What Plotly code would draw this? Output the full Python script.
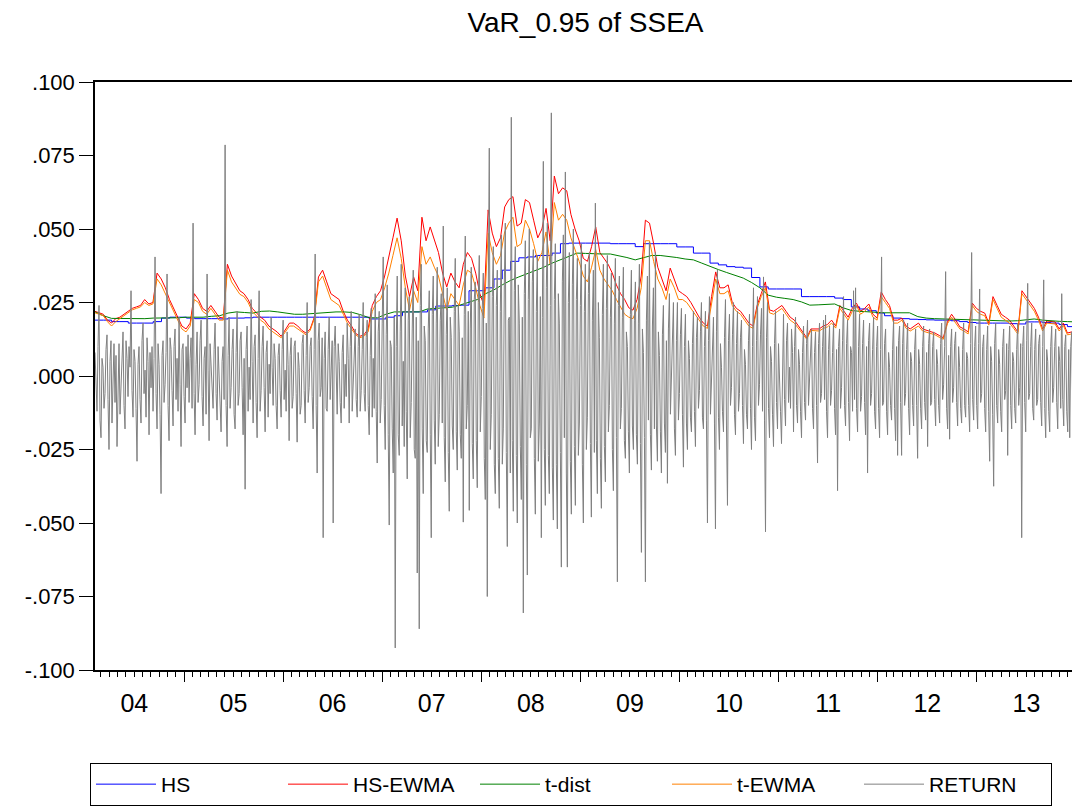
import pandas as pd
import plotly.graph_objects as go

# ---------------- data ----------------
START = "2004-02-08"
END = "2013-12-31"

# Daily return, sampled about every pixel of the original chart
returns = [
    .008, -.004, -.012, .010, .024, -.015, -.021, .006, .003, -.011, -.006, .009, .014, -.008, -.025, .005, .012, -.016, .004, .011,
    -.009, .007, -.024, -.006, .011, -.013, -.002, .008, .015, -.010, -.018, .012, .006, -.007, .010, .003, .029, -.005, -.014, .009,
    .005, -.011, -.029, .004, .010, -.008, -.016, .012, .018, -.006, .002, -.014, .013, .005, -.020, .008, -.004, .010, -.012, .006,
    .0405, -.006, -.018, .011, .004, -.013, -.040, .007, .012, -.009, -.003, .008, .0347, -.010, -.022, .013, .009, -.005, -.017, .010,
    .016, -.008, .006, -.012, .020, -.003, -.024, .009, .011, -.007, -.016, .010, -.004, .014, -.009, .006, .013, -.011, .052, -.006,
    -.020, .004, .015, -.009, -.003, .012, .019, -.007, -.017, .006, .010, -.013, .0347, .002, -.022, .011, .004, -.008, -.011, .009,
    .018, -.006, -.015, .010, .002, -.012, -.019, .005, .010, -.008, .0786, -.010, -.024, .007, .020, -.011, -.004, .009, .016, -.013,
    -.018, .008, .022, -.010, -.006, .012, .015, -.004, -.020, .006, -.0385, .009, .017, -.012, .003, -.008, .026, .005, -.016, .010,
    .014, -.009, -.021, .006, .029, -.012, -.005, .010, .017, -.004, -.019, .008, .012, -.014, .004, -.006, .020, .003, -.010, .011,
    .006, -.010, -.018, .007, .011, -.005, -.014, .009, .019, -.008, .002, -.012, .015, .004, -.022, .007, .013, -.011, -.007, .010,
    .012, -.006, -.0225, .008, .003, -.013, -.010, .011, .014, -.005, -.016, .007, .025, -.009, -.004, .010, .013, -.007, -.018, .009,
    .0415, -.010, -.033, .012, .018, -.007, -.004, .013, -.055, .006, .015, -.011, -.012, .009, .020, -.008, .003, .012, -.050, .010,
    .017, -.005, -.013, .011, .005, -.009, -.016, .008, .014, -.011, .004, -.007, .018, .006, -.016, .010, .022, -.012, -.002, .009,
    .016, -.008, -.014, .010, .021, -.012, -.005, .009, .025, -.006, -.012, .013, .019, -.010, -.020, .007, .023, -.014, .006, -.011,
    .028, -.012, -.0296, .015, .022, -.016, -.008, .018, .0405, -.010, -.025, .014, .031, -.020, -.0507, .012, .010, -.018, -.033, .020,
    -.0925, .010, .034, -.020, -.027, .015, .038, -.017, .005, -.024, .030, -.012, -.035, .019, .027, -.021, -.009, .016, .036, -.025,
    -.028, .020, -.067, .012, -.086, .024, .038, -.018, -.040, .017, .012, -.022, -.026, .016, .029, -.020, -.055, .021, .034, -.015,
    -.030, .018, .037, -.024, -.013, .019, .028, -.016, .051, -.021, -.036, .014, .030, -.026, -.046, .020, .013, -.017, -.025, .022,
    .040, -.019, -.032, .024, .015, -.020, -.028, .013, -.0497, .021, .0476, -.018, -.010, .022, -.0457, .016, .037, -.023, -.035, .026,
    .032, -.022, -.038, .025, .041, -.019, -.007, .023, .035, -.028, -.042, .018, -.075, .030, .0775, -.025, -.013, .027, .044, -.030,
    -.040, .024, .036, -.028, -.045, .022, .048, -.030, -.018, .031, .052, -.026, -.058, .019, .020, -.033, .088, -.022, -.046, .029,
    .044, -.027, -.050, .031, .018, -.024, -.042, .020, -.0806, .028, .046, -.030, -.0677, .026, .050, -.021, -.018, .032, .043, -.028,
    -.047, .022, .041, -.029, -.016, .027, -.055, .020, .073, -.025, -.044, .030, .052, -.027, -.040, .024, .0895, -.031, -.049, .026,
    .045, -.030, -.052, .028, .018, -.026, -.065, .032, .048, -.021, .0694, -.033, -.065, .025, .042, -.029, -.047, .031, .050, -.024,
    -.044, .026, .040, -.027, -.016, .024, .045, -.030, -.050, .022, .038, -.025, -.014, .028, .042, -.023, -.048, .019, .036, -.026,
    .0588, -.022, -.040, .025, .013, -.028, -.045, .021, .038, -.024, -.036, .023, .041, -.019, -.010, .020, .035, -.025, -.039, .018,
    .040, -.021, -.070, .024, .034, -.018, -.011, .020, .037, -.022, -.028, .015, .010, -.019, -.033, .021, .036, -.017, -.025, .019,
    .032, -.020, -.030, .018, .038, -.023, -.060, .016, .008, -.021, -.070, .019, .034, -.015, .0456, -.020, -.032, .017, .030, -.018,
    .042, -.017, -.029, .015, .007, -.019, -.033, .014, .024, -.016, -.026, .012, -.0365, .016, .028, -.013, -.002, .015, .025, -.018,
    -.027, .012, .025, -.015, -.006, .014, .023, -.013, -.031, .010, .021, -.016, -.025, .012, .006, -.014, -.019, .011, .022, -.012,
    -.024, .013, .020, -.011, -.005, .015, .025, -.014, -.018, .010, .022, -.015, -.050, .012, .027, -.013, -.002, .014, .020, -.016,
    -.052, .015, .036, -.014, -.025, .011, .003, -.012, -.019, .013, .026, -.017, -.044, .012, .021, -.010, -.004, .014, .025, -.013,
    -.020, .011, .022, -.012, -.006, .013, .019, -.010, -.023, .009, .004, -.013, -.018, .012, .021, -.011, -.025, .010, .030, -.014,
    -.022, .012, .027, -.010, -.003, .014, .023, -.012, .0337, -.015, -.053, .013, .025, -.011, -.021, .010, .005, -.013, -.024, .011,
    .022, -.009, -.018, .011, .002, -.012, -.023, .010, .021, -.008, -.017, .012, .018, -.009, .003, -.011, .016, .008, -.019, .010,
    .020, -.010, -.016, .009, .004, -.012, -.021, .008, .017, -.009, -.015, .011, .019, -.010, -.002, .009, .016, -.011, -.018, .008,
    .015, -.010, -.0296, .011, .018, -.009, -.006, .010, .019, -.008, .0207, -.012, -.021, .009, .017, -.010, -.005, .008, .018, -.011,
    -.020, .009, -.039, .010, .016, -.011, -.004, .012, .027, -.010, -.017, .011, .019, -.009, -.022, .010, .008, -.012, .029, -.008,
    .030, -.011, -.019, .010, .021, -.012, -.007, .011, .019, -.009, -.020, .010, -.033, .012, .018, -.010, -.006, .009, .020, -.012,
    -.018, .010, .017, -.011, -.021, .009, .0405, -.010, -.009, .011, .016, -.012, -.020, .008, .003, -.010, -.015, .009, .019, -.011,
    -.022, .010, -.027, .012, .017, -.009, -.027, .011, .019, -.010, -.006, .009, .018, -.011, -.020, .008, .005, -.010, -.017, .009,
    .016, -.010, -.028, .009, .004, -.011, -.018, .010, .017, -.009, -.015, .008, -.024, .011, .016, -.010, -.009, .010, .015, -.008,
    -.017, .009, .004, -.010, -.016, .011, .018, -.008, -.003, .010, .0355, -.011, -.018, .007, -.0215, .010, .016, -.009, -.004, .011,
    .015, -.009, -.017, .010, .003, -.011, -.016, .009, .018, -.010, -.014, .008, .006, -.010, -.019, .011, .042, -.008, -.015, .010,
    .017, -.010, -.018, .011, .0296, -.009, -.006, .010, .014, -.011, -.019, .009, .017, -.012, -.029, .010, .005, -.013, -.0375, .011,
    .018, -.010, -.016, .009, .004, -.012, -.019, .010, .016, -.008, -.005, .011, -.027, .009, .017, -.010, -.018, .008, .005, -.011,
    -.016, .009, .018, -.010, -.004, .011, -.055, .010, .017, -.009, -.019, .012, .0315, -.008, -.006, .010, .018, -.011, -.015, .009,
    .016, -.010, -.008, .011, .014, -.009, -.017, .010, .0327, -.011, -.021, .009, .005, -.012, -.019, .010, .017, -.009, -.004, .010,
    .016, -.009, -.018, .010, .005, -.011, .028, -.008, -.017, .010, .014, -.012, -.019, .009, -.021, .010, .015, -.011, -.016, .009,
    .013,
]

# HS-EWMA VaR, semi-monthly samples
hs_ewma = [
    .022, .0216, .021, .019, .018, .0195, .020, .021, .022, .023,
    .0235, .024, .026, .0245, .025, .035, .033, .030, .026, .023,
    .020, .017, .016, .018, .028, .026, .023, .022, .024, .022,
    .020, .0197, .038, .034, .0316, .029, .028, .026, .023, .0215,
    .020, .019, .017, .016, .015, .0135, .016, .018, .018, .017,
    .0155, .0146, .016, .020, .0337, .036, .032, .028, .027, .026,
    .022, .019, .017, .0145, .0135, .014, .016, .024, .027, .029,
    .034, .040, .047, .0537, .046, .034, .027, .0337, .029, .054,
    .046, .0507, .046, .042, .035, .0303, .035, .032, .030, .038,
    .042, .040, .035, .028, .024, .0565, .0486, .044, .047, .0575,
    .060, .061, .051, .052, .060, .059, .053, .047, .050, .057,
    .046, .068, .062, .064, .063, .055, .050, .046, .040, .039,
    .044, .0507, .042, .040, .038, .035, .031, .028, .026, .0232,
    .0224, .026, .034, .053, .052, .045, .037, .033, .029, .0367,
    .033, .029, .028, .027, .025, .0224, .020, .018, .017, .027,
    .0354, .030, .030, .031, .025, .023, .022, .020, .018, .017,
    .024, .028, .032, .0225, .022, .023, .024, .022, .020, .019,
    .017, .015, .013, .016, .016, .016, .017, .0175, .019, .017,
    .024, .022, .020, .023, .0248, .022, .023, .0245, .021, .0197,
    .0286, .026, .024, .019, .019, .0197, .017, .016, .017, .018,
    .016, .0155, .015, .0146, .0138, .013, .0184, .021, .019, .0167,
    .016, .015, .0248, .023, .022, .0214, .018, .027, .024, .021,
    .020, .019, .017, .015, .029, .027, .025, .023, .020, .016,
    .0187, .0185, .0184, .016, .018, .0146, .015, .016,
]

# t-EWMA VaR, semi-monthly samples
t_ewma = [
    .0215, .021, .0205, .0185, .017, .0185, .0195, .0205, .0215, .0225,
    .023, .0235, .025, .024, .0245,
    .033, .031, .028, .025, .022, .019, .016, .015, .017, .026,
    .025, .022, .021, .023, .021, .019, .019,
    .036, .032, .030, .0278, .027, .025, .022, .0205, .019, .018,
    .016, .015, .014, .013, .015, .017, .017, .016, .0148, .014, .0155,
    .0195, .032, .034, .030, .026, .025, .024, .021, .018, .016,
    .014, .013, .0135, .015,
    .022, .025, .026, .030, .035, .041, .047, .040, .030, .0224,
    .029, .025, .044, .038, .0405, .037, .034, .028, .0224, .028,
    .026, .024, .031, .036, .035, .030, .024, .0197,
    .0486, .042, .038, .041, .049, .052, .054, .044, .045, .053,
    .050, .045, .039, .042, .049, .038, .059, .053, .055, .053,
    .047, .043, .039, .034, .032, .037, .043, .036, .033, .031,
    .029, .026, .0235, .021, .020, .0195, .023, .030, .046, .046,
    .039, .033, .030, .026, .033, .030, .026,
    .026, .025, .023, .021, .019, .017, .0162, .025, .033, .028,
    .028, .029, .024, .022, .021, .019, .017, .0162, .023, .027,
    .030, .0215, .021, .022, .023, .021, .019, .018, .0162, .0142,
    .0125, .0155, .0153, .0153, .0162, .0167, .018, .0163, .023, .021,
    .019, .022, .024, .021, .022, .0235, .020, .019, .027, .025,
    .023, .018, .018, .019, .0162, .0153, .0163, .017, .0153, .0148,
    .0143, .014, .0132, .0125, .0178, .020, .018, .016, .0153, .0143,
    .024, .022, .021, .0205, .0173, .026, .023, .020, .019, .018,
    .0162, .0143, .028, .026, .024, .022, .019, .0153, .018, .0178,
    .0177, .0153, .0172, .014, .0143, .0153,
]

# HS VaR, monthly samples (step-like)
hs = [
    .019, .019, .0185, .0185, .018, .018, .018, .0185, .0197, .020,
    .020, .0197, .0195, .0195, .0195, .0194, .0197, .0197, .0198, .020,
    .020, .020, .020, .020, .020, .020, .020, .020, .020, .020,
    .020, .020, .020, .0194, .0194, .020, .0205, .0218, .0218, .0218,
    .0225, .0238, .0238, .024, .0241, .029, .029, .030, .033, .036,
    .039, .0402, .0405, .041, .041, .0418, .045, .0452, .0452, .0452,
    .0452, .0452, .045, .045, .045, .044, .045, .045, .045, .045,
    .0439, .0439, .0418, .0418, .0384, .0378, .0372, .037, .0367, .0335,
    .0303, .0296, .0296, .0296, .0296, .027, .027, .027, .027, .0265,
    .026, .0235, .0228, .0222, .0214, .0205, .0197, .0195, .0193, .0192,
    .0191, .019, .019, .0188, .0185, .0182, .018, .018, .018, .018,
    .0178, .0177, .0184, .0184, .0182, .018, .0175, .0168, .0167,
]

# t-dist VaR, monthly samples
t_dist = [
    .0218, .0205, .0196, .0196, .0195, .0194, .0195, .0197, .0197, .0198,
    .0198, .020, .020, .020, .0203, .0205, .0214, .0218, .0216, .0214,
    .022, .0221, .0218, .0214, .021, .021, .0212, .0215, .0216, .0218,
    .0218, .0216, .0208, .0198, .0198, .021, .0218, .0218, .0218, .0218,
    .0228, .023, .0232, .0234, .0242, .025, .026, .028, .0293, .031,
    .0325, .0337, .0348, .0357, .037, .0384, .0395, .0408, .0418, .0417,
    .0415, .0415, .0415, .041, .0403, .0395, .0403, .041, .041, .0407,
    .0403, .0398, .0395, .0384, .0372, .0362, .0352, .0342, .0333, .0318,
    .030, .0275, .0268, .0264, .026, .0252, .0241, .0242, .0243, .0245,
    .0232, .0223, .022, .0218, .0217, .0215, .0215, .0216, .0215, .0202,
    .0197, .0195, .0194, .0193, .0192, .0191, .019, .0189, .0188, .0187,
    .0187, .0188, .0191, .0194, .019, .0187, .0186, .0185, .0184,
]

y_tickvals = [0.1, 0.075, 0.05, 0.025, 0.0, -0.025, -0.05, -0.075, -0.1]
y_ticktext = [".100", ".075", ".050", ".025", ".000", "-.025", "-.050", "-.075", "-.100"]

series_names = ["HS", "HS-EWMA", "t-dist", "t-EWMA", "RETURN"]
series_colors = ["#0000FF", "#FF0000", "#008000", "#FF8000", "#808080"]


def dates_for(values):
    return pd.date_range(START, END, periods=len(values))


FONT = "Liberation Sans, Arial, sans-serif"
# the page adds an 8px body margin, so the figure is sized to fit inside it
W, H = 1072, 801

fig = go.Figure()
fig.add_trace(go.Scatter(x=dates_for(hs), y=hs, name=series_names[0], mode="lines",
                         line=dict(color=series_colors[0], width=1, shape="hv")))
fig.add_trace(go.Scatter(x=dates_for(hs_ewma), y=hs_ewma, name=series_names[1], mode="lines",
                         line=dict(color=series_colors[1], width=1)))
fig.add_trace(go.Scatter(x=dates_for(t_dist), y=t_dist, name=series_names[2], mode="lines",
                         line=dict(color=series_colors[2], width=1)))
fig.add_trace(go.Scatter(x=dates_for(t_ewma), y=t_ewma, name=series_names[3], mode="lines",
                         line=dict(color=series_colors[3], width=1)))
fig.add_trace(go.Scatter(x=dates_for(returns), y=returns, name=series_names[4], mode="lines",
                         line=dict(color=series_colors[4], width=1)))

fig.update_layout(
    width=W, height=H,
    margin=dict(l=87, r=4, t=74, b=139, autoexpand=False),
    paper_bgcolor="white", plot_bgcolor="white",
    font=dict(family=FONT, color="black", size=22),
    title=dict(text="VaR_0.95 of SSEA", x=0.5, xref="paper", y=1 - 14 / H,
               yanchor="middle", font=dict(size=28, family=FONT, color="black")),
    showlegend=True,
    legend=dict(orientation="h", xref="container", yref="container",
                x=82 / W, xanchor="left", y=1 - 755 / H, yanchor="top",
                bordercolor="black", borderwidth=1, bgcolor="white",
                itemwidth=60, entrywidth=117, entrywidthmode="pixels",
                font=dict(size=21, family=FONT), traceorder="normal"),
)

fig.update_xaxes(
    type="date",
    range=[START, "2014-01-01"],
    showgrid=False, zeroline=False,
    showline=True, linecolor="black", linewidth=1.5, mirror=True,
    ticks="outside", ticklen=10, tickcolor="black", tickwidth=1,
    dtick="M12", tick0="2004-01-01", tickformat="%y", ticklabelmode="period",
    tickfont=dict(size=25, family=FONT),
    minor=dict(ticks="outside", ticklen=5, dtick="M1", tick0="2004-01-01",
               tickcolor="black", showgrid=False),
)
fig.update_yaxes(
    range=[-0.1, 0.1],
    showgrid=False, zeroline=False,
    showline=True, linecolor="black", linewidth=1.5, mirror=True,
    ticks="outside", ticklen=14, tickcolor="black", tickwidth=1,
    tickvals=y_tickvals, ticktext=y_ticktext,
    tickfont=dict(size=22, family=FONT),
)

fig.write_html("out.html")
